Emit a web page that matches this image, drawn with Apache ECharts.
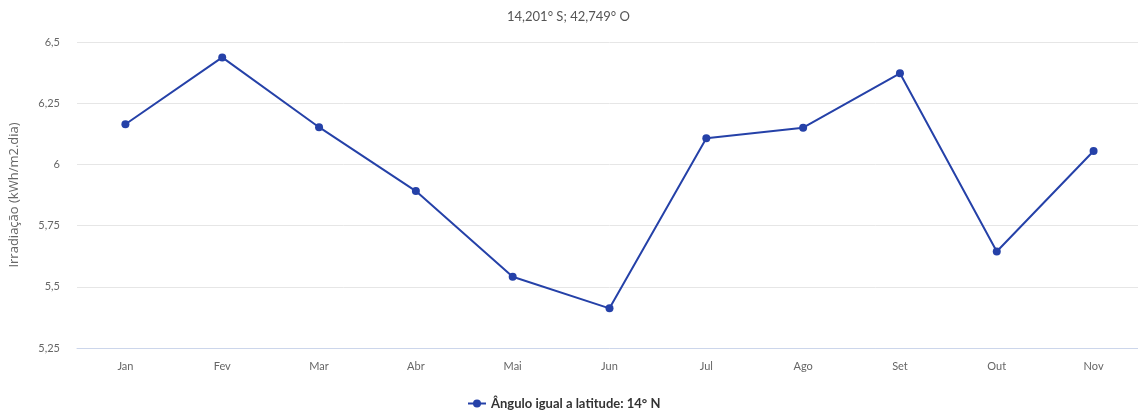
<!DOCTYPE html>
<html>
<head>
<meta charset="utf-8">
<script src="https://cdn.jsdelivr.net/npm/echarts@6/dist/echarts.min.js"></script>
<style>
html,body{margin:0;padding:0;background:#fff;overflow:hidden;}
#chart{width:1144px;height:416px;}
</style>
</head>
<body>
<div id="chart"></div>
<script>
const categories = ['Jan','Fev','Mar','Abr','Mai','Jun','Jul','Ago','Set','Out','Nov'];
const values = [6.164, 6.437, 6.152, 5.891, 5.541, 5.412, 6.107, 6.150, 6.372, 5.644, 6.055];
const seriesName = 'Ângulo igual a latitude: 14° N';
const titleText = '14,201° S; 42,749° O';
const yAxisName = 'Irradiação (kWh/m2.dia)';

const font = 'Lato, "Open Sans", sans-serif';
const chart = echarts.init(document.getElementById('chart'));
chart.setOption({
  animation: false,
  textStyle: {fontFamily: font},
  title: {
    text: titleText, left: 502, top: 5,
    textStyle: {fontSize: 13, fontWeight: 'normal', color: '#555', fontFamily: font}
  },
  legend: {
    bottom: 1, left: 462,
    itemWidth: 18, itemHeight: 10, itemGap: 8,
    textStyle: {fontSize: 13, fontWeight: 'bold', color: '#333', fontFamily: font},
    data: [{name: seriesName}]
  },
  grid: {left: 76, top: 42, right: 2, bottom: 68, containLabel: false},
  xAxis: {
    type: 'category', data: categories, boundaryGap: true,
    axisLine: {lineStyle: {color: '#ccd6eb', width: 1}},
    axisTick: {show: false},
    axisLabel: {color: '#666', fontSize: 11, margin: 13, fontFamily: font}
  },
  yAxis: {
    type: 'value', min: 5.25, max: 6.5, interval: 0.25,
    name: yAxisName, nameLocation: 'middle', nameGap: 56, nameRotate: 90,
    nameTextStyle: {color: '#666', fontSize: 13, fontFamily: '"Open Sans", sans-serif'},
    axisLine: {show: false}, axisTick: {show: false},
    axisLabel: {color: '#666', fontSize: 11, margin: 17, fontFamily: font,
      formatter: v => String(Math.round(v*100)/100).replace('.', ',')},
    splitLine: {lineStyle: {color: '#e6e6e6'}}
  },
  series: [{
    name: seriesName, type: 'line', data: values,
    symbol: 'circle', symbolSize: 8,
    lineStyle: {color: '#2541a8', width: 2},
    itemStyle: {color: '#2541a8'}
  }]
});
</script>
</body>
</html>
